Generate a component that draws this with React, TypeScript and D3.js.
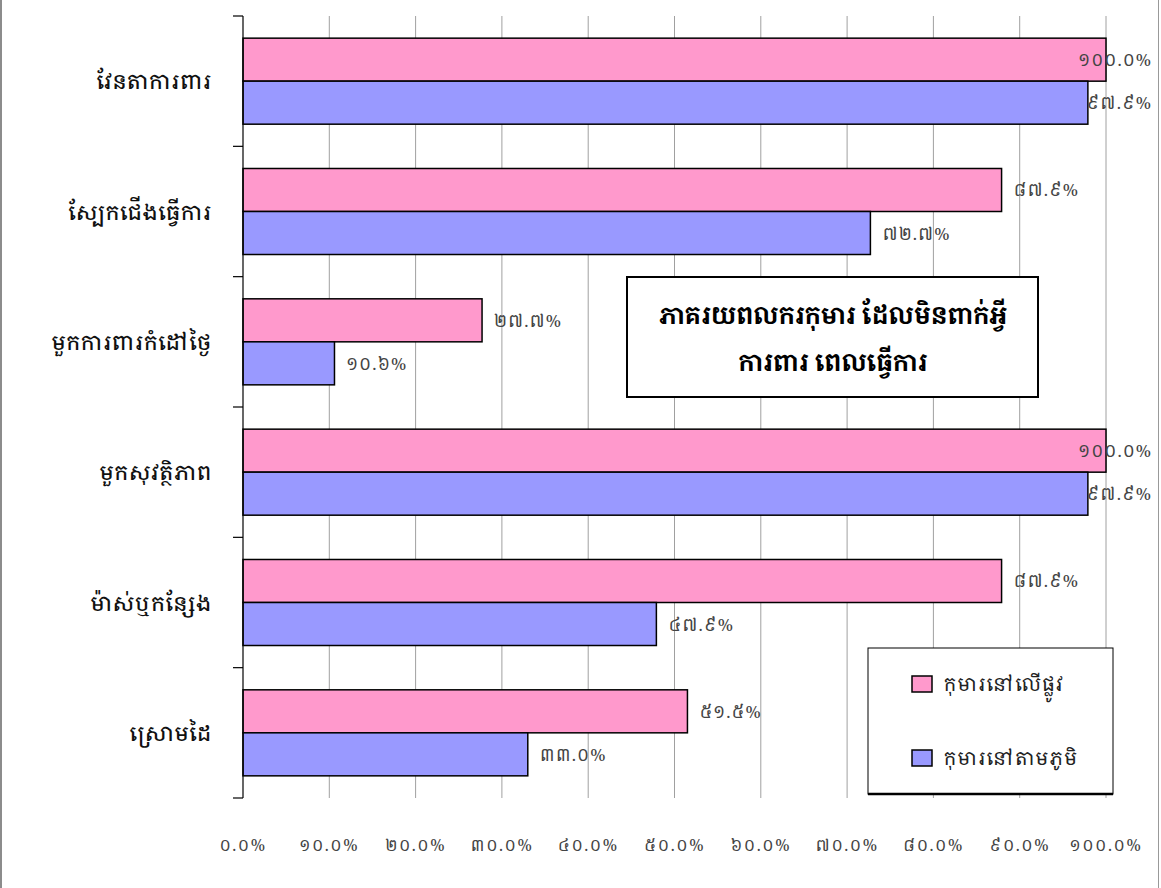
import React from "react";
import * as d3 from "d3";

const categories = [
  "វែនតាការពារ",
  "ស្បែកជើងធ្វើការ",
  "មួកការពារកំដៅថ្ងៃ",
  "មួកសុវត្ថិភាព",
  "ម៉ាស់ឬកន្សែង",
  "ស្រោមដៃ",
];
const seriesNames = ["កុមារនៅលើផ្លូវ", "កុមារនៅតាមភូមិ"];
const cityValues = [100.0, 87.9, 27.7, 100.0, 87.9, 51.5];
const villageValues = [97.9, 72.7, 10.6, 97.9, 47.9, 33.0];
const xTicks = [0, 10, 20, 30, 40, 50, 60, 70, 80, 90, 100];
const titleLines = ["ភាគរយពលករកុមារ ដែលមិនពាក់អ្វី", "ការពារ ពេលធ្វើការ"];
const colors = ["#FF99CC", "#9999FF"];

const KH = "០១២៣៤៥៦៧៨៩";
const toKhmer = (s: string) => s.replace(/[0-9]/g, (d) => KH[+d]);
const fmt = (v: number) => toKhmer(v.toFixed(1)) + "%";

const FONT = "'Noto Serif Khmer', 'Khmer OS', 'Noto Sans Khmer', 'DejaVu Sans', sans-serif";

export default function App() {
  const W = 1161, H = 888;
  const left = 243, right = 1106, top = 16, bottom = 798;
  const x = d3.scaleLinear().domain([0, 100]).range([left, right]);
  const y = d3.scaleBand<string>().domain(categories).range([top, bottom]).padding(0);
  const step = y.bandwidth();
  const yInner = d3.scaleBand<string>().domain(seriesNames).range([step * 0.17, step * 0.83]).padding(0);
  const seriesValues = [cityValues, villageValues];
  const boundaries = categories.map((c) => y(c)!).concat([bottom]);

  return (
    <svg width={W} height={H} style={{ position: "absolute", left: 0, top: 0, display: "block", background: "#fff" }} fontFamily={FONT}>
      <rect x={0} y={0} width={W} height={H} fill="#fff" />
      <line x1={1} x2={1} y1={0} y2={H} stroke="#666" strokeWidth={1.5} />
      <line x1={W - 2.5} x2={W - 2.5} y1={0} y2={H} stroke="#999" strokeWidth={1} />
      {xTicks.slice(1).map((t) => (
        <line key={"g" + t} x1={x(t)} x2={x(t)} y1={top} y2={bottom} stroke="#a0a0a0" strokeWidth={1} />
      ))}
      {categories.map((c, ci) =>
        seriesNames.map((s, si) => {
          const v = seriesValues[si][ci];
          return (
            <rect key={c + s} x={x(0)} y={y(c)! + yInner(s)!} width={x(v) - x(0)} height={yInner.bandwidth()}
              fill={colors[si]} stroke="#000" strokeWidth={1.5} />
          );
        })
      )}
      <line x1={left} x2={left} y1={top} y2={bottom} stroke="#000" strokeWidth={1.2} />
      {boundaries.map((b, i) => (
        <line key={"t" + i} x1={left - 10} x2={left} y1={b} y2={b} stroke="#000" strokeWidth={1.2} />
      ))}
      {categories.map((c) => (
        <text key={"c" + c} x={212} y={y(c)! + step / 2} textAnchor="end" dominantBaseline="central" fontSize={21} letterSpacing={1} fontWeight={500} fill="#111">{c}</text>
      ))}
      {categories.map((c, ci) =>
        seriesNames.map((s, si) => {
          const v = seriesValues[si][ci];
          const label = fmt(v);
          const w = label.length * 12;
          const xs = x(v) + 12;
          const over = xs + w > 1155;
          return (
            <text key={"l" + c + s} x={over ? 1152 : xs} y={y(c)! + yInner(s)! + yInner.bandwidth() / 2}
              textAnchor={over ? "end" : "start"} dominantBaseline="central" fontSize={17} letterSpacing={1} fill="#444">{label}</text>
          );
        })
      )}
      {xTicks.map((t) => (
        <text key={"x" + t} x={x(t)} y={845} textAnchor="middle" dominantBaseline="central" fontSize={16} letterSpacing={1.5} fill="#444">{fmt(t)}</text>
      ))}
      <rect x={627} y={277} width={411} height={120} fill="#fff" stroke="#000" strokeWidth={2} />
      {titleLines.map((l, i) => (
        <text key={"ti" + i} x={833} y={314 + i * 47} textAnchor="middle" dominantBaseline="central" fontSize={24} fontWeight="bold" fill="#000">{l}</text>
      ))}
      <rect x={868} y={648} width={245} height={146} fill="#fff" stroke="#000" strokeWidth={1} />
      <line x1={868} x2={1113} y1={794} y2={794} stroke="#000" strokeWidth={2.5} />
      {seriesNames.map((s, i) => (
        <g key={"lg" + s}>
          <rect x={912} y={676 + i * 74} width={20} height={16} fill={colors[i]} stroke="#000" strokeWidth={1.5} />
          <text x={944} y={684 + i * 74} dominantBaseline="central" fontSize={19} letterSpacing={1.5} fill="#222">{s}</text>
        </g>
      ))}
    </svg>
  );
}
